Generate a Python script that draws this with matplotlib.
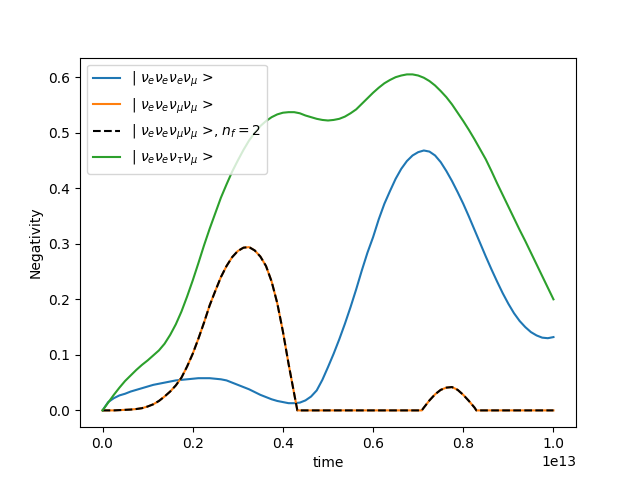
import numpy as np
import matplotlib
matplotlib.use("Agg")
import matplotlib.pyplot as plt

# time in units of 1e13
t_grid = [0.0, 0.0125, 0.025, 0.0375, 0.05, 0.0625, 0.075, 0.0875, 0.1, 0.1125,
          0.125, 0.1375, 0.15, 0.1625, 0.175, 0.1875, 0.2, 0.2125, 0.225, 0.2375,
          0.25, 0.2625, 0.275, 0.2875, 0.3, 0.3125, 0.325, 0.3375, 0.35, 0.3625,
          0.375, 0.3875, 0.4, 0.4125, 0.425, 0.4375, 0.45, 0.4625, 0.475, 0.4875,
          0.5, 0.5125, 0.525, 0.5375, 0.55, 0.5625, 0.575, 0.5875, 0.6, 0.6125,
          0.625, 0.6375, 0.65, 0.6625, 0.675, 0.6875, 0.7, 0.7125, 0.725, 0.7375,
          0.75, 0.7625, 0.775, 0.7875, 0.8, 0.8125, 0.825, 0.8375, 0.85, 0.8625,
          0.875, 0.8875, 0.9, 0.9125, 0.925, 0.9375, 0.95, 0.9625, 0.975, 0.9875,
          1.0]

neg_eeeu = [0.0, 0.015, 0.022, 0.027, 0.030, 0.034, 0.037, 0.040, 0.043, 0.046,
            0.048, 0.050, 0.052, 0.054, 0.055, 0.056, 0.057, 0.058, 0.058, 0.058,
            0.057, 0.056, 0.054, 0.050, 0.046, 0.042, 0.038, 0.033, 0.028, 0.024,
            0.020, 0.017, 0.015, 0.013, 0.013, 0.014, 0.018, 0.025, 0.036, 0.055,
            0.078, 0.102, 0.128, 0.156, 0.186, 0.218, 0.252, 0.284, 0.312, 0.344,
            0.372, 0.395, 0.417, 0.435, 0.449, 0.459, 0.465, 0.468, 0.466, 0.459,
            0.447, 0.431, 0.413, 0.393, 0.372, 0.349, 0.325, 0.301, 0.277, 0.254,
            0.232, 0.211, 0.192, 0.175, 0.161, 0.150, 0.141, 0.135, 0.131, 0.130,
            0.132]

neg_etu = [0.0, 0.014, 0.028, 0.041, 0.053, 0.063, 0.073, 0.082, 0.090, 0.099,
           0.108, 0.120, 0.136, 0.155, 0.178, 0.205, 0.234, 0.265, 0.297, 0.327,
           0.355, 0.383, 0.407, 0.430, 0.450, 0.469, 0.486, 0.500, 0.512, 0.521,
           0.528, 0.533, 0.536, 0.537, 0.537, 0.535, 0.531, 0.528, 0.525, 0.523,
           0.522, 0.523, 0.525, 0.529, 0.535, 0.542, 0.552, 0.562, 0.572, 0.581,
           0.589, 0.595, 0.600, 0.603, 0.605, 0.605, 0.603, 0.599, 0.593, 0.585,
           0.575, 0.564, 0.551, 0.536, 0.521, 0.505, 0.488, 0.470, 0.452, 0.431,
           0.409, 0.388, 0.367, 0.346, 0.325, 0.305, 0.284, 0.263, 0.242, 0.221,
           0.200]

t_euu = [0.0, 0.0125, 0.025, 0.0375, 0.05, 0.0625, 0.075, 0.0875, 0.1, 0.1125,
         0.125, 0.1375, 0.15, 0.1625, 0.175, 0.1875, 0.2, 0.2125, 0.225, 0.2375,
         0.25, 0.2625, 0.275, 0.2875, 0.3, 0.3125, 0.325, 0.3375, 0.35, 0.3625,
         0.375, 0.3875, 0.4, 0.4125, 0.425, 0.432, 0.45, 0.5, 0.55, 0.6,
         0.65, 0.7, 0.708, 0.7125, 0.725, 0.7375, 0.75, 0.7625, 0.775, 0.7875,
         0.8, 0.8125, 0.825, 0.829, 0.85, 0.9, 0.95, 1.0]
neg_euu = [0.0, 0.0, 0.0, 0.0005, 0.001, 0.0015, 0.0025, 0.004, 0.007, 0.011,
           0.017, 0.025, 0.034, 0.045, 0.059, 0.079, 0.102, 0.129, 0.158, 0.189,
           0.215, 0.240, 0.260, 0.276, 0.287, 0.293, 0.294, 0.288, 0.277, 0.260,
           0.232, 0.193, 0.142, 0.084, 0.030, 0.0, 0.0, 0.0, 0.0, 0.0,
           0.0, 0.0, 0.0, 0.005, 0.018, 0.029, 0.037, 0.041, 0.042, 0.037,
           0.028, 0.017, 0.005, 0.0, 0.0, 0.0, 0.0, 0.0]

labels = ["| $\\nu_e\\nu_e\\nu_e\\nu_\\mu$ >",
          "| $\\nu_e\\nu_e\\nu_\\mu\\nu_\\mu$ >",
          "| $\\nu_e\\nu_e\\nu_\\mu\\nu_\\mu$ >, $n_f=2$",
          "| $\\nu_e\\nu_e\\nu_\\tau\\nu_\\mu$ >"]

scale = 1e13
tg = np.array(t_grid) * scale
tu = np.array(t_euu) * scale

fig, ax = plt.subplots(figsize=(6.4, 4.8), dpi=100)
ax.plot(tg, neg_eeeu, color="C0", label=labels[0])
ax.plot(tu, neg_euu, color="C1", label=labels[1])
ax.plot(tu, neg_euu, color="black", linestyle="--", label=labels[2])
ax.plot(tg, neg_etu, color="C2", label=labels[3])
ax.set_xlabel("time")
ax.set_ylabel("Negativity")
ax.legend(loc="upper left")
fig.savefig("out.png", dpi=100)
